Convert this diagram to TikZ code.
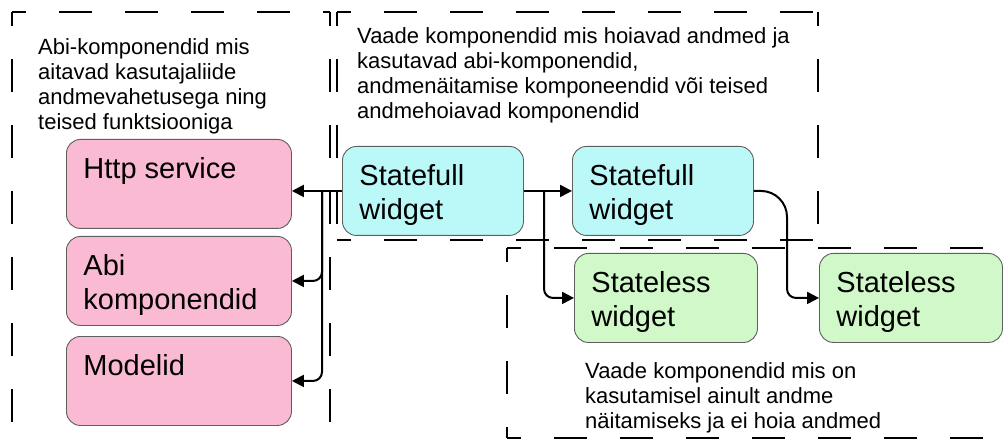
\documentclass[tikz,border=0pt]{standalone}
\usepackage{fontspec}
\setmainfont{Liberation Sans}
\usetikzlibrary{arrows.meta,calc}
\definecolor{pinkf}{RGB}{251,186,211}
\definecolor{cyanf}{RGB}{187,249,249}
\definecolor{greenf}{RGB}{208,248,200}
\definecolor{edgegray}{RGB}{95,95,95}
\tikzset{
  comp/.style={draw=edgegray, line width=0.9pt, rounded corners=14pt, anchor=north west,
    inner xsep=17pt, inner ysep=18pt, font=\fontsize{29}{34}\selectfont, align=left},
  grp/.style={draw=black, line width=2.5pt, dash pattern=on 33pt off 33pt, dash phase=19pt},
  captxt/.style={anchor=north west, inner sep=0pt, align=left, font=\fontsize{22}{25}\selectfont},
  arr/.style={line width=2pt, -{Triangle[length=12pt,width=12pt]}},
}
\newcommand{\boxtext}[2]{\parbox[t][53pt][t]{#1}{#2}}
\newcommand{\grpbox}[4]{%
  \draw[grp] (#1,#2) -- (#3,#2);
  \draw[grp] (#1,#2) -- (#1,#4);
  \draw[grp] (#3,#2) -- (#3,#4);
  \draw[grp] (#1,#4) -- (#3,#4);}
\begin{document}
\begin{tikzpicture}[x=1pt,y=-1pt]
\useasboundingbox (0,0) rectangle (1008,443);
\begin{scope}
\clip (0,0) rectangle (1008,443);
% group boxes
\grpbox{12}{12}{330}{470}
\grpbox{337}{12}{818}{240}
\grpbox{507}{248}{1040}{438}
\end{scope}

% captions
\node[captxt] (capL) at (38,38) {Abi-komponendid mis\\aitavad kasutajaliide\\andmevahetusega ning\\teised funktsiooniga};
\node[captxt] (capM) at (357,27) {Vaade komponendid mis hoiavad andmed ja\\kasutavad abi-komponendid,\\andmenäitamise komponeendid või teised\\andmehoiavad komponendid};
\node[captxt] (capR) at (585,362) {Vaade komponendid mis on\\kasutamisel ainult andme\\näitamiseks ja ei hoia andmed};

% components
\node[comp, fill=pinkf] (http) at (66,139) {\boxtext{191pt}{Http service}};
\node[comp, fill=pinkf] (abi) at (66,236) {\boxtext{191pt}{Abi\\komponendid}};
\node[comp, fill=pinkf] (mod) at (66,336) {\boxtext{191pt}{Modelid}};
\node[comp, fill=cyanf] (sf1) at (342,146) {\boxtext{147pt}{Statefull\\widget}};
\node[comp, fill=cyanf] (sf2) at (572,146) {\boxtext{147pt}{Statefull\\widget}};
\node[comp, fill=greenf] (sl1) at (574,253) {\boxtext{149pt}{Stateless\\widget}};
\node[comp, fill=greenf] (sl2) at (819,253) {\boxtext{149pt}{Stateless\\widget}};

% connectors
\coordinate (jL) at (322,0);
\draw[arr] (sf1.west) -- (sf1.west -| http.east);
\draw[arr, rounded corners=9pt] (sf1.west -| jL) |- (abi.east);
\draw[arr, rounded corners=9pt] (sf1.west -| jL) |- (mod.east);
\coordinate (jR) at (544,0);
\draw[arr] (sf1.east) -- (sf2.west);
\draw[arr, rounded corners=9pt] (sf1.east -| jR) |- (sl1.west);
\coordinate (kR) at (787,250);
\draw[arr, rounded corners=26pt] (sf2.east) -| (kR) [rounded corners=9pt] |- (sl2.west);
\end{tikzpicture}
\end{document}
